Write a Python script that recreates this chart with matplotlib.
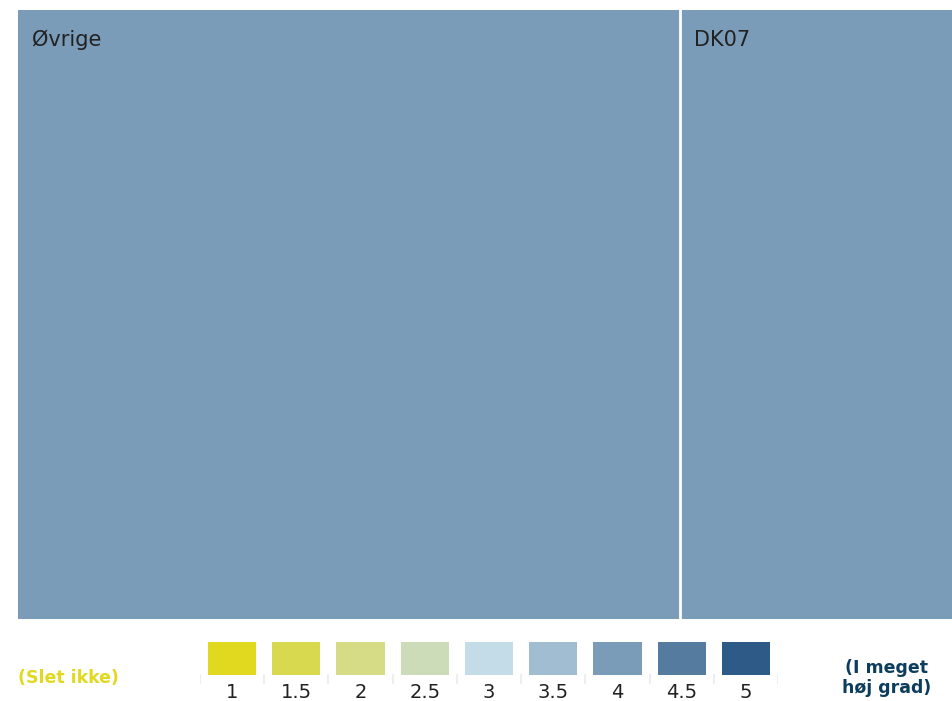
import matplotlib
matplotlib.use("Agg")
import matplotlib.pyplot as plt
from matplotlib.patches import Rectangle

plt.rcParams['font.family'] = ['DejaVu Sans']

# Treemap data
labels = ["Øvrige", "DK07"]
sizes = [70.8, 29.2]
scores = [4, 4]

# Colour scale
scale_values = [1, 1.5, 2, 2.5, 3, 3.5, 4, 4.5, 5]
scale_labels = ["1", "1.5", "2", "2.5", "3", "3.5", "4", "4.5", "5"]
scale_colors = ["#e1d91f", "#d9d94f", "#d5dc85", "#cddcb8", "#c3dce8",
                "#a0bdd2", "#7a9cb8", "#557c9f", "#2e5a87"]
low_label = "(Slet ikke)"
high_label = "(I meget\nhøj grad)"

W, H = 953, 701
fig = plt.figure(figsize=(W / 100, H / 100), dpi=100)

def px_axes(x0, y0, x1, y1):
    return fig.add_axes([x0 / W, 1 - y1 / H, (x1 - x0) / W, (y1 - y0) / H])

# Treemap (single row, slice layout)
ax = px_axes(18, 10, 953, 619)
total = sum(sizes)
ax.set_xlim(0, total)
ax.set_ylim(0, 1)
ax.axis("off")
x = 0
for lab, s, sc in zip(labels, sizes, scores):
    col = scale_colors[scale_values.index(sc)]
    ax.add_patch(Rectangle((x, 0), s, 1, facecolor=col, edgecolor="none"))
    if x > 0:
        ax.axvline(x, color="white", linewidth=2)
    ax.text(x + total * 0.015, 0.951, lab, fontsize=15, color="#222222",
            ha="left", va="center")
    x += s

# Colour legend
lax = px_axes(200, 642, 778, 701)
n = len(scale_values)
lax.set_xlim(0, n)
lax.set_ylim(59, 0)
lax.axis("off")
for i, (c, t) in enumerate(zip(scale_colors, scale_labels)):
    lax.add_patch(Rectangle((i + 0.125, 0), 0.75, 33, facecolor=c, edgecolor="none"))
    lax.text(i + 0.5, 50, t, fontsize=14, color="#222222", ha="center", va="center",
             clip_on=False)
for i in range(n + 1):
    lax.plot([i, i], [33, 41], color="#eeeeee", linewidth=1.5)

fig.text(18 / W, 1 - 678 / H, low_label, fontsize=12.5, fontweight="bold",
         color="#e1d91f", ha="left", va="center")
fig.text(887 / W, 1 - 678 / H, high_label, fontsize=12.5, fontweight="bold",
         color="#0d3d5c", ha="center", va="center", linespacing=1.1)

fig.savefig("out.png", dpi=100)
